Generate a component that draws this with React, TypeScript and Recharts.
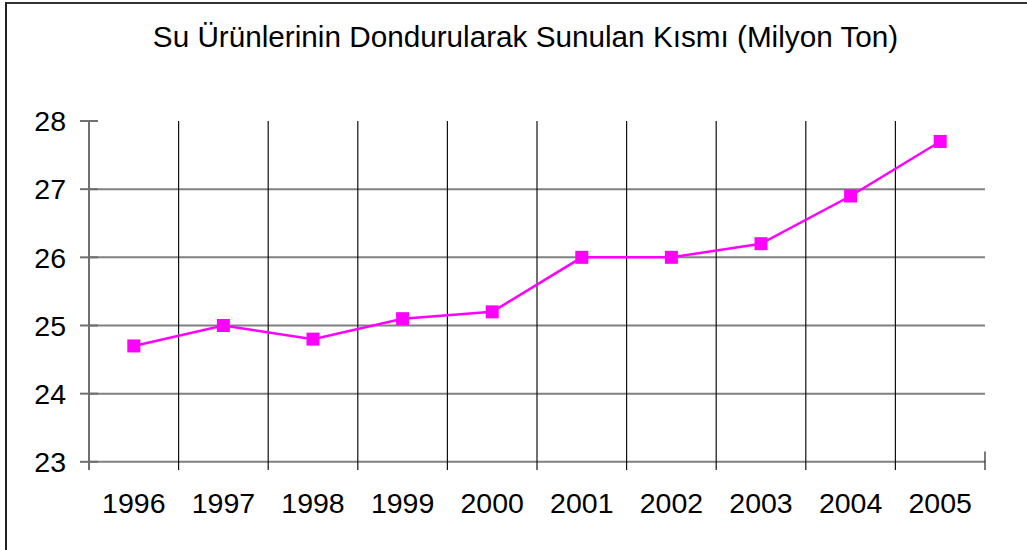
import React from 'react';
import { LineChart, Line, XAxis, YAxis, CartesianGrid, ReferenceLine } from 'recharts';

const years = ['1996', '1997', '1998', '1999', '2000', '2001', '2002', '2003', '2004', '2005'];
const values = [24.7, 25.0, 24.8, 25.1, 25.2, 26.0, 26.0, 26.2, 26.9, 27.7];
const yTicks = [23, 24, 25, 26, 27, 28];
const gridYTicks = [23, 24, 25, 26, 27];
const boundaryTicks = [1, 2, 3, 4, 5, 6, 7, 8, 9];
const title = 'Su Ürünlerinin Dondurularak Sunulan Kısmı (Milyon Ton)';

const data = years.map((y, i) => ({ year: y, value: values[i], slot: i }));

const FONT = '"Liberation Sans", Arial, Helvetica, sans-serif';
const Y_MIN = 22.88;
const Y_MAX = 28;

const SquareDot = (props: any) => {
  const { cx, cy } = props;
  if (cx == null || cy == null) return null;
  return <rect x={cx - 6.5} y={cy - 6.5} width={13} height={13} fill="#ff00ff" />;
};

const YTick = (props: any) => {
  const { x, y, payload } = props;
  const axisX = x + 9 + 14;
  return (
    <g>
      <line x1={axisX - 9} x2={axisX + 9} y1={y} y2={y} stroke="#707070" strokeWidth={2} />
      <text x={x} y={y} dy="0.36em" textAnchor="end" fill="#000" fontSize={28.5} fontFamily={FONT}>
        {payload.value}
      </text>
    </g>
  );
};

export default function App() {
  return (
    <div style={{ position: 'absolute', left: 0, top: 0, width: 1027, height: 550, background: '#fff', overflow: 'hidden' }}>
      <div
        style={{
          position: 'absolute',
          left: 5,
          top: 2,
          width: 1100,
          height: 600,
          borderTop: '2px solid #333',
          borderLeft: '2px solid #222',
        }}
      />
      <div
        style={{
          position: 'absolute',
          left: 0,
          width: 1051,
          top: 20,
          textAlign: 'center',
          fontFamily: FONT,
          fontSize: 29.7,
          lineHeight: '34px',
          color: '#000',
          whiteSpace: 'nowrap',
        }}
      >
        {title}
      </div>
      <div style={{ position: 'absolute', left: 0, top: 0 }}>
        <LineChart width={1027} height={550} data={data} margin={{ top: 121, right: 42, bottom: 0, left: 9 }}>
          <XAxis xAxisId={0} dataKey="slot" type="number" domain={[0, 10]} ticks={boundaryTicks} allowDataOverflow height={0} hide />
          <YAxis yAxisId={0} type="number" domain={[Y_MIN, Y_MAX]} ticks={gridYTicks} allowDataOverflow width={0} hide />
          <CartesianGrid vertical={false} horizontal syncWithTicks stroke="#808080" strokeWidth={2} />
          <CartesianGrid vertical horizontal={false} syncWithTicks stroke="#111" strokeWidth={1.2} />
          <XAxis
            xAxisId="cat"
            dataKey="year"
            scale="band"
            height={80}
            tickLine={false}
            axisLine={false}
            tickSize={0}
            tickMargin={23}
            interval={0}
            tick={{ fill: '#000', fontSize: 28.5, fontFamily: FONT }}
          />
          <YAxis
            yAxisId="y"
            type="number"
            domain={[Y_MIN, Y_MAX]}
            ticks={yTicks}
            allowDataOverflow
            width={80}
            tickSize={9}
            tickMargin={14}
            tickLine={false}
            axisLine={{ stroke: '#707070', strokeWidth: 2 }}
            tick={<YTick />}
            interval={0}
          />
          <ReferenceLine
            segment={[{ x: 10, y: 23.15 }, { x: 10, y: Y_MIN }]}
            stroke="#222"
            strokeWidth={1.2}
            ifOverflow="visible"
          />
          <Line
            xAxisId="cat"
            yAxisId="y"
            dataKey="value"
            stroke="#ff00ff"
            strokeWidth={2.5}
            dot={<SquareDot />}
            activeDot={false}
            isAnimationActive={false}
          />
        </LineChart>
      </div>
    </div>
  );
}
